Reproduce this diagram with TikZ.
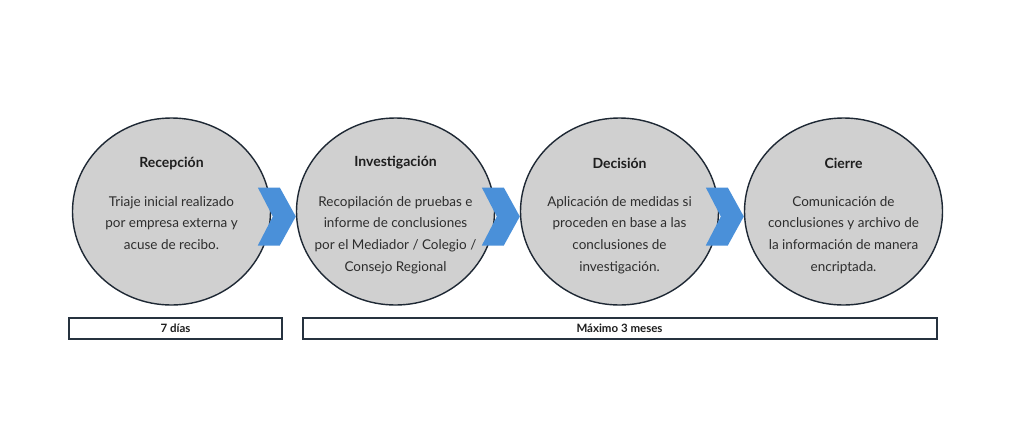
\documentclass[tikz,border=0pt]{standalone}
\usepackage{fontspec}
\setmainfont{Lato}
\usetikzlibrary{shapes.geometric,calc}
\definecolor{circfill}{RGB}{208,208,208}
\definecolor{circline}{RGB}{30,40,52}
\definecolor{chev}{RGB}{74,144,217}
\definecolor{boxline}{RGB}{38,50,63}
\definecolor{titlecol}{RGB}{30,30,30}
\definecolor{bodycol}{RGB}{45,45,45}
\tikzset{
  stage/.style={ellipse, draw=circline, line width=1.4pt, fill=circfill,
    minimum width=198pt, minimum height=187pt, inner sep=0pt},
  stagetitle/.style={font=\bfseries\fontsize{14}{16}\selectfont, text=titlecol, inner sep=0pt},
  stagebody/.style={font=\fontsize{13.5}{21.7}\selectfont, text=bodycol, align=center, inner sep=0pt, anchor=north},
  chevron/.style={fill=chev, draw=none},
  period/.style={draw=boxline, line width=2pt, fill=white, minimum height=21pt, inner sep=0pt,
    font=\bfseries\fontsize{11.5}{13}\selectfont, text=titlecol},
}
\begin{document}
\begin{tikzpicture}[x=1pt,y=-1pt]
\useasboundingbox[fill=white] (0,0) rectangle (1024,421);
% stages
\node[stage] (c1) at (171.5,211.5) {};
\node[stage] (c2) at (395.5,211.5) {};
\node[stage] (c3) at (619.5,211.5) {};
\node[stage] (c4) at (843.5,211.5) {};
% chevrons
\foreach \n in {2,3,4}{
  \coordinate (tip\n) at ($(c\n.west)+(0,5)$);
  \fill[chevron] ($(tip\n)+(-38,-29)$) -- ($(tip\n)+(-16,-29)$) -- (tip\n) --
    ($(tip\n)+(-16,29)$) -- ($(tip\n)+(-38,29)$) -- ($(tip\n)+(-23,0)$) -- cycle;
}
% titles
\node[stagetitle] (t1) at (171.5,163) {Recepción};
\node[stagetitle] (t2) at (395.5,163) {Investigación};
\node[stagetitle] (t3) at (619.5,163) {Decisión};
\node[stagetitle] (t4) at (843.5,163) {Cierre};
% bodies
\node[stagebody] (b1) at (171.5,196) {Triaje inicial realizado\\por empresa externa y\\acuse de recibo.};
\node[stagebody] (b2) at (395.5,196) {Recopilación de pruebas e\\informe de conclusiones\\por el Mediador / Colegio /\\Consejo Regional};
\node[stagebody] (b3) at (619.5,196) {Aplicación de medidas si\\proceden en base a las\\conclusiones de\\investigación.};
\node[stagebody] (b4) at (843.5,196) {Comunicación de\\conclusiones y archivo de\\la información de manera\\encriptada.};
% periods
\node[period, minimum width=213pt] (p1) at (175.5,328) {7 días};
\node[period, minimum width=634pt] (p2) at (619.5,328) {Máximo 3 meses};
\end{tikzpicture}
\end{document}
